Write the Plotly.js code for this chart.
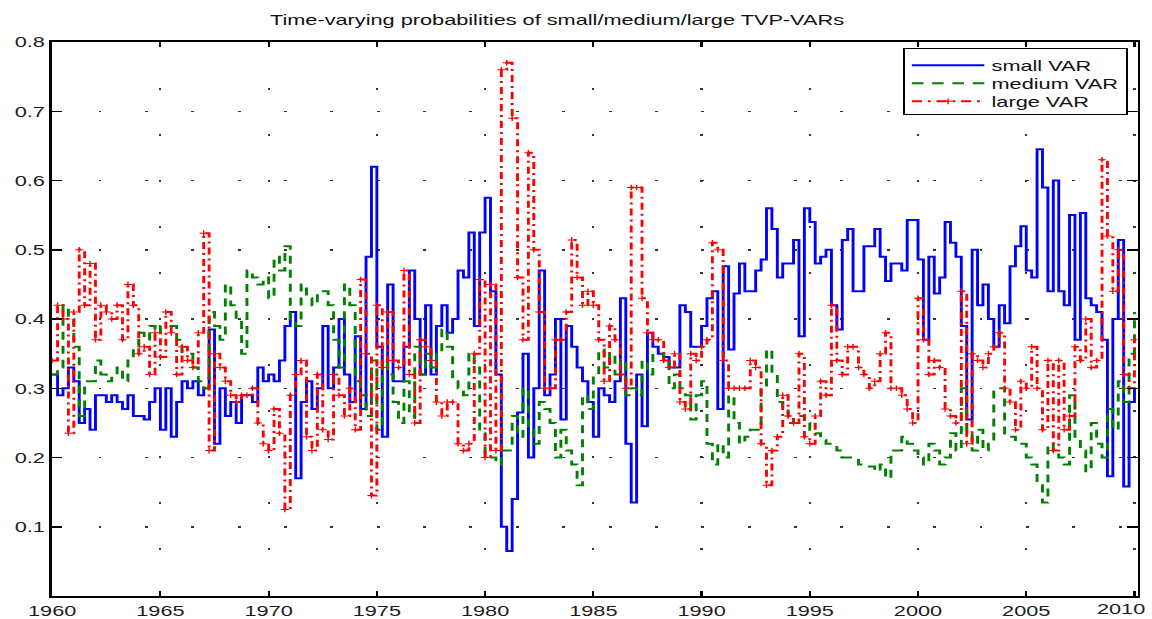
<!DOCTYPE html>
<html><head><meta charset="utf-8">
<script src="https://cdn.plot.ly/plotly-3.0.1.min.js"></script>
<style>
html,body{margin:0;padding:0;overflow:hidden;background:#fff;width:1152px;height:619px;}
#chart{width:795px;height:619px;transform:scaleX(1.44906);transform-origin:0 0;}
</style></head><body><div id="chart"></div>
<script>
// quarterly observations starting 1960 Q1
const startYear = 1960;
const stepYears = 0.25;

const smallVAR = [
 0.32,0.29,0.30,0.33, 0.31,0.25,0.27,0.24, 0.29,0.29,0.28,0.29, 0.28,0.27,0.29,0.26,
 0.26,0.255,0.28,0.30, 0.24,0.30,0.23,0.28, 0.31,0.30,0.31,0.29, 0.30,0.385,0.22,0.30,
 0.26,0.28,0.25,0.29, 0.29,0.28,0.33,0.31, 0.32,0.31,0.34,0.39, 0.41,0.17,0.28,0.31,
 0.27,0.30,0.39,0.30, 0.33,0.40,0.32,0.28, 0.375,0.27,0.49,0.62, 0.36,0.23,0.45,0.31,
 0.31,0.36,0.47,0.40, 0.32,0.42,0.32,0.39, 0.42,0.38,0.40,0.47, 0.46,0.525,0.39,0.525,
 0.575,0.44,0.32,0.10, 0.065,0.14,0.265,0.35, 0.20,0.30,0.47,0.29, 0.32,0.40,0.255,0.39,
 0.36,0.33,0.31,0.28, 0.23,0.30,0.29,0.28, 0.31,0.43,0.22,0.135, 0.32,0.245,0.38,0.36,
 0.35,0.345,0.33,0.33, 0.42,0.41,0.36,0.36, 0.39,0.43,0.44,0.27, 0.476,0.356,0.437,0.48,
 0.44,0.44,0.47,0.486, 0.56,0.53,0.46,0.48, 0.48,0.514,0.375,0.56, 0.54,0.48,0.49,0.50,
 0.42,0.385,0.514,0.53, 0.44,0.44,0.505,0.505, 0.53,0.49,0.455,0.48, 0.48,0.47,0.543,0.543,
 0.486,0.37,0.49,0.437, 0.46,0.54,0.51,0.49, 0.39,0.255,0.50,0.42, 0.45,0.40,0.36,0.42,
 0.394,0.476,0.505,0.534, 0.47,0.46,0.645,0.59, 0.44,0.60,0.44,0.42, 0.55,0.37,0.553,0.43,
 0.42,0.41,0.37,0.173, 0.40,0.514,0.158,0.28, 0.30
];

const mediumVAR = [
 0.32,0.33,0.42,0.40, 0.36,0.26,0.31,0.31, 0.34,0.32,0.31,0.32, 0.33,0.31,0.34,0.36,
 0.38,0.37,0.39,0.38, 0.39,0.39,0.39,0.37, 0.35,0.35,0.33,0.31, 0.30,0.41,0.39,0.37,
 0.45,0.42,0.40,0.35, 0.47,0.46,0.45,0.46, 0.43,0.49,0.47,0.505, 0.40,0.39,0.45,0.43,
 0.42,0.44,0.44,0.42, 0.37,0.33,0.45,0.42, 0.31,0.29,0.26,0.34, 0.24,0.34,0.32,0.28,
 0.25,0.31,0.26,0.36, 0.32,0.35,0.33,0.35, 0.385,0.36,0.31,0.30, 0.29,0.35,0.33,0.235,
 0.20,0.20,0.19,0.21, 0.21,0.26,0.23,0.30, 0.24,0.22,0.28,0.27, 0.25,0.20,0.24,0.21,
 0.19,0.16,0.29,0.27, 0.32,0.356,0.33,0.35, 0.32,0.34,0.29,0.30, 0.29,0.34,0.32,0.35,
 0.35,0.34,0.30,0.32, 0.30,0.29,0.255,0.29, 0.31,0.22,0.19,0.22, 0.20,0.29,0.25,0.22,
 0.23,0.24,0.24,0.30, 0.356,0.32,0.28,0.27, 0.25,0.26,0.26,0.25, 0.24,0.235,0.225,0.22,
 0.22,0.21,0.20,0.20, 0.20,0.19,0.19,0.187, 0.18,0.19,0.17,0.21, 0.21,0.23,0.22,0.21,
 0.20,0.19,0.22,0.21, 0.19,0.20,0.235,0.21, 0.30,0.24,0.21,0.24, 0.21,0.22,0.30,0.30,
 0.23,0.23,0.22,0.22, 0.20,0.19,0.16,0.135, 0.22,0.21,0.20,0.19, 0.29,0.23,0.21,0.18,
 0.25,0.22,0.20,0.27, 0.24,0.31,0.28,0.35, 0.41
];

const largeVAR = [
 0.34,0.42,0.40,0.235, 0.41,0.50,0.42,0.48, 0.37,0.42,0.41,0.40, 0.42,0.37,0.45,0.42,
 0.35,0.36,0.32,0.38, 0.345,0.41,0.38,0.32, 0.36,0.34,0.33,0.38, 0.524,0.21,0.35,0.33,
 0.31,0.29,0.28,0.29, 0.29,0.30,0.25,0.22, 0.21,0.27,0.235,0.125, 0.29,0.32,0.34,0.23,
 0.21,0.32,0.24,0.226, 0.32,0.29,0.26,0.30, 0.24,0.457,0.35,0.145, 0.42,0.33,0.41,0.34,
 0.33,0.47,0.32,0.25, 0.37,0.36,0.34,0.28, 0.26,0.28,0.28,0.22, 0.21,0.22,0.35,0.457,
 0.20,0.45,0.21,0.76, 0.77,0.69,0.46,0.37, 0.64,0.50,0.41,0.30, 0.30,0.37,0.37,0.41,
 0.514,0.46,0.42,0.44, 0.42,0.37,0.31,0.39, 0.37,0.32,0.30,0.59, 0.59,0.43,0.38,0.37,
 0.37,0.34,0.33,0.35, 0.28,0.27,0.35,0.34, 0.36,0.37,0.51,0.50, 0.34,0.30,0.30,0.30,
 0.30,0.34,0.33,0.22, 0.16,0.21,0.23,0.29, 0.26,0.25,0.35,0.23, 0.22,0.26,0.31,0.29,
 0.42,0.34,0.32,0.36, 0.36,0.33,0.32,0.30, 0.31,0.35,0.38,0.30, 0.30,0.29,0.27,0.25,
 0.43,0.37,0.32,0.34, 0.33,0.27,0.26,0.25, 0.44,0.22,0.35,0.34, 0.33,0.35,0.36,0.38,
 0.30,0.28,0.24,0.31, 0.30,0.36,0.30,0.24, 0.34,0.21,0.34,0.24, 0.26,0.36,0.34,0.40,
 0.33,0.34,0.63,0.52, 0.44,0.50,0.32,0.30, 0.37
];

const xTickVals = [1960,1965,1970,1975,1980,1985,1990,1995,2000,2005,2010];
const xTickText = ['1960','1965','1970','1975','1980','1985','1990','1995','2000','2005',''];
const lastXTickLabel = '2010';
const yTickVals = [0.1,0.2,0.3,0.4,0.5,0.6,0.7,0.8];
const yTickText = ['0.1','0.2','0.3','0.4','0.5','0.6','0.7','0.8'];
const seriesNames = ['small VAR','medium VAR','large VAR'];
const chartTitle = 'Time-varying probabilities of small/medium/large TVP-VARs';

const xs = smallVAR.map((_, i) => startYear + i * stepYears);
const FONT = '"Liberation Sans", Arial, Helvetica, sans-serif';
const TICKFONT = {family: FONT, size: 15, color: '#1c1c1c'};

const traces = [
  {x: xs, y: smallVAR, name: seriesNames[0], type: 'scatter', mode: 'lines',
   line: {color: '#0000ff', width: 2, shape: 'hv'}},
  {x: xs, y: mediumVAR, name: seriesNames[1], type: 'scatter', mode: 'lines',
   line: {color: '#008000', width: 2, shape: 'hv', dash: '8px,6px'}},
  {x: xs, y: largeVAR, name: seriesNames[2], type: 'scatter', mode: 'lines+markers',
   line: {color: '#ff0000', width: 2, shape: 'hv', dash: '7px,4px,2px,4px'},
   marker: {symbol: 'cross-thin', size: 4, color: '#ff0000', line: {color: '#ff0000', width: 1}}}
];

const axisCommon = {
  showline: true, linecolor: '#000', linewidth: 2, mirror: 'ticks',
  ticks: 'inside', tickcolor: '#000', tickwidth: 1.5,
  showgrid: true, gridcolor: '#333', gridwidth: 1.5,
  zeroline: false, tickfont: TICKFONT
};

const layout = {
  width: 795, height: 619,
  margin: {l: 36, r: 10, t: 42, b: 23},
  paper_bgcolor: '#fff', plot_bgcolor: '#fff',
  font: {family: FONT, color: '#111'},
  title: {text: chartTitle, x: 0.4835, xref: 'container', xanchor: 'center',
          y: 0.968, yref: 'container', yanchor: 'middle',
          font: {family: FONT, size: 15, color: '#111'}},
  xaxis: Object.assign({}, axisCommon, {range: [1960, 2010.14], tickmode: 'array',
          tickvals: xTickVals, ticktext: xTickText, ticklen: 5, griddash: '2px,44px'}),
  yaxis: Object.assign({}, axisCommon, {range: [0, 0.8], tickmode: 'array',
          tickvals: yTickVals, ticktext: yTickText, ticklen: 7, griddash: '2px,30px'}),
  annotations: [{text: lastXTickLabel, xref: 'paper', yref: 'paper', x: 1, y: 0,
                 xanchor: 'right', yanchor: 'top', xshift: 7, yshift: -2,
                 showarrow: false, font: TICKFONT}],
  showlegend: true,
  legend: {x: 0.991, y: 0.989, xanchor: 'right', yanchor: 'top',
           bordercolor: '#000', borderwidth: 1, bgcolor: '#fff',
           font: {family: FONT, size: 15, color: '#111'}, itemwidth: 50,
           tracegroupgap: 0}
};

Plotly.newPlot('chart', traces, layout, {staticPlot: true, displayModeBar: false}).then(gd => {
  // tighten legend row spacing to match the reference
  try {
    const rows = gd.querySelectorAll('.legend .traces');
    const target = 18;
    const pos = [];
    rows.forEach(t => {
      const m = /translate\(\s*([-\d.]+)[ ,]+([-\d.]+)\s*\)/.exec(t.getAttribute('transform') || '');
      pos.push(m ? [parseFloat(m[1]), parseFloat(m[2])] : null);
    });
    if (pos.length > 1 && pos.every(p => p)) {
      const oldStep = pos[1][1] - pos[0][1];
      if (oldStep > target) {
        rows.forEach((t, i) => t.setAttribute('transform', 'translate(' + pos[i][0] + ',' + (pos[0][1] + i * target) + ')'));
        const bg = gd.querySelector('.legend .bg');
        const h = parseFloat(bg.getAttribute('height'));
        bg.setAttribute('height', h - (pos.length - 1) * (oldStep - target) - 4);
      }
    }
  } catch (e) {}
});
</script></body></html>
